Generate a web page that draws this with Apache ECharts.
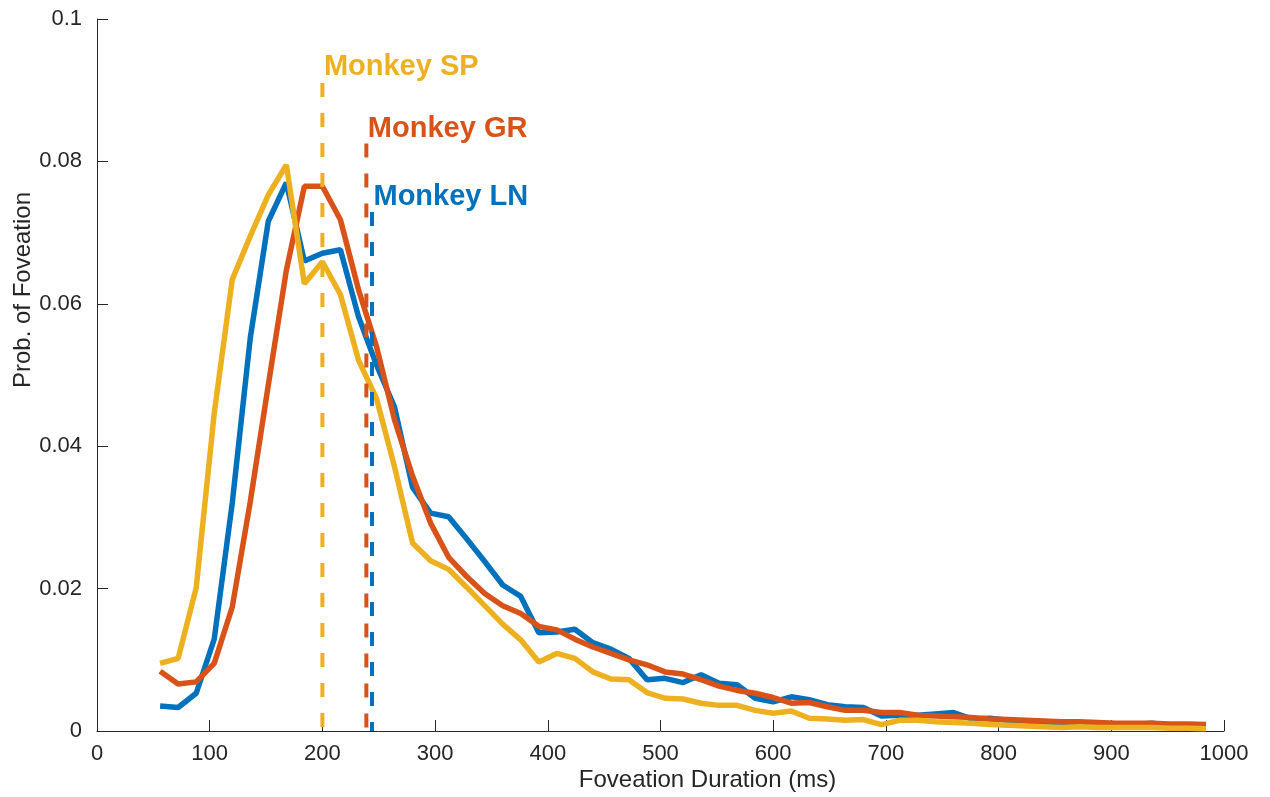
<!DOCTYPE html>
<html>
<head>
<meta charset="utf-8">
<title>Foveation duration distributions</title>
<script src="https://cdn.jsdelivr.net/npm/echarts@6/dist/echarts.min.js"></script>
<style>
  html, body { margin: 0; padding: 0; background: #fff; }
  #chart { width: 1270px; height: 797px; }
</style>
</head>
<body>
<div id="chart"></div>
<script>
// Bin centres of the foveation-duration histogram (ms)
const binCenters = [56, 72, 88, 104, 120, 136, 152, 168, 184, 200, 216, 232, 248, 264, 280, 296,
  312, 328, 344, 360, 376, 392, 408, 424, 440, 456, 472, 488, 504, 520, 536, 552, 568, 584, 600,
  616, 632, 648, 664, 680, 696, 712, 728, 744, 760, 776, 792, 808, 824, 840, 856, 872, 888, 904,
  920, 936, 952, 968, 984];

// Probability of a foveation falling in each bin, per monkey
const probLN = [0.0035, 0.0033, 0.0053, 0.0129, 0.0320, 0.0552, 0.0716, 0.0770, 0.0660, 0.0671,
  0.0676, 0.0582, 0.0514, 0.0455, 0.0342, 0.0306, 0.0301, 0.0270, 0.0238, 0.0205, 0.0189, 0.0138,
  0.0139, 0.0143, 0.0124, 0.0115, 0.0102, 0.0072, 0.0074, 0.0068, 0.0079, 0.0067, 0.0065, 0.0046,
  0.0041, 0.0048, 0.0044, 0.0037, 0.0034, 0.0033, 0.0021, 0.0022, 0.0022, 0.0024, 0.0026, 0.0017,
  0.0018, 0.0015, 0.0014, 0.0012, 0.0011, 0.0010, 0.0009, 0.0009, 0.0009, 0.0011, 0.0008, 0.0008,
  0.0008];

const probGR = [0.0084, 0.0066, 0.0069, 0.0095, 0.0174, 0.0322, 0.0486, 0.0647, 0.0765, 0.0765,
  0.0718, 0.0620, 0.0540, 0.0437, 0.0358, 0.0292, 0.0244, 0.0217, 0.0193, 0.0176, 0.0165, 0.0147,
  0.0142, 0.0129, 0.0118, 0.0109, 0.0100, 0.0093, 0.0083, 0.0080, 0.0072, 0.0063, 0.0057, 0.0053,
  0.0047, 0.0039, 0.0040, 0.0034, 0.0029, 0.0029, 0.0026, 0.0026, 0.0022, 0.0021, 0.0020, 0.0019,
  0.0017, 0.0016, 0.0015, 0.0014, 0.0013, 0.0013, 0.0012, 0.0011, 0.0011, 0.0011, 0.0010, 0.0010,
  0.0009];

const probSP = [0.0095, 0.0102, 0.0201, 0.0446, 0.0634, 0.0695, 0.0753, 0.0795, 0.0628, 0.0659,
  0.0613, 0.0521, 0.0467, 0.0371, 0.0264, 0.0239, 0.0227, 0.0202, 0.0176, 0.0150, 0.0128, 0.0097,
  0.0109, 0.0102, 0.0083, 0.0073, 0.0072, 0.0054, 0.0046, 0.0045, 0.0039, 0.0036, 0.0036, 0.0029,
  0.0025, 0.0028, 0.0018, 0.0017, 0.0015, 0.0016, 0.0009, 0.0015, 0.0015, 0.0013, 0.0012, 0.0011,
  0.0009, 0.0008, 0.0007, 0.0006, 0.0005, 0.0006, 0.0005, 0.0005, 0.0005, 0.0005, 0.0004, 0.0004,
  0.0003];

// Mean foveation duration per monkey (dashed markers) and where the name sits
const monkeyNames = ['Monkey LN', 'Monkey GR', 'Monkey SP'];
const meanDuration = [244, 239, 200];
const markerTop = [0.0729, 0.0825, 0.0910];
const nameHeight = [0.0750, 0.0846, 0.0932];

const colors = ['#0072BD', '#D95319', '#EDB120'];
const probs = [probLN, probGR, probSP];
const FONT = '"Liberation Sans", Helvetica, Arial, sans-serif';
const INK = '#262626';

const series = [];
probs.forEach((p, i) => {
  series.push({
    name: monkeyNames[i],
    type: 'line',
    data: binCenters.map((x, k) => [x, p[k]]),
    showSymbol: false,
    lineStyle: { color: colors[i], width: 5.5 },
    z: 2 + i
  });
});
meanDuration.forEach((m, i) => {
  series.push({
    name: monkeyNames[i] + ' mean',
    type: 'line',
    data: [[m, markerTop[i]], [m, 0]],
    showSymbol: false,
    lineStyle: { color: colors[i], width: 4, type: [14, 16] },
    z: 10 + i
  });
});
series.push({
  name: 'names',
  type: 'scatter',
  data: meanDuration.map((m, i) => ({
    value: [m, nameHeight[i]],
    label: { color: colors[i] }
  })),
  symbolSize: 1,
  itemStyle: { color: 'rgba(0,0,0,0)', opacity: 1 },
  label: {
    show: true,
    position: 'right',
    distance: 1,
    formatter: (d) => monkeyNames[d.dataIndex],
    fontFamily: FONT,
    fontSize: 29,
    fontWeight: 'bold'
  },
  z: 20
});

const chart = echarts.init(document.getElementById('chart'), null, { renderer: 'canvas' });
chart.setOption({
  animation: false,
  backgroundColor: '#ffffff',
  grid: { left: 97, right: 46, top: 19, bottom: 66, containLabel: false, outerBoundsMode: 'none' },
  xAxis: {
    type: 'value',
    min: 0, max: 1000, interval: 100,
    name: 'Foveation Duration (ms)',
    nameLocation: 'middle',
    nameGap: 37,
    nameMoveOverlap: false,
    nameTextStyle: { fontFamily: FONT, fontSize: 24, color: INK, padding: [0, 0, 0, 94] },
    axisLine: { show: true, lineStyle: { color: INK, width: 1 } },
    axisTick: { show: true, inside: true, length: 11, lineStyle: { color: INK } },
    axisLabel: { fontFamily: FONT, fontSize: 22, color: INK, margin: 12, formatter: (v) => String(v) },
    splitLine: { show: false }
  },
  yAxis: {
    type: 'value',
    min: 0, max: 0.1, interval: 0.02,
    name: 'Prob. of Foveation',
    nameLocation: 'middle',
    nameGap: 62,
    nameMoveOverlap: false,
    nameTextStyle: { fontFamily: FONT, fontSize: 24, color: INK, padding: [0, 0, 0, 170] },
    axisLine: { show: true, lineStyle: { color: INK, width: 1 } },
    axisTick: { show: true, inside: true, length: 11, lineStyle: { color: INK } },
    axisLabel: { fontFamily: FONT, fontSize: 22, color: INK, margin: 15 },
    splitLine: { show: false }
  },
  series: series
});
</script>
</body>
</html>
